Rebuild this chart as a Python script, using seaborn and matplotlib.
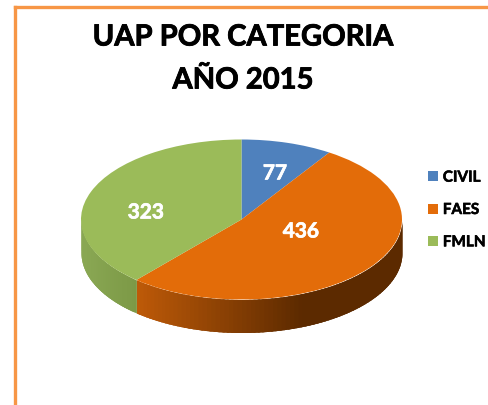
import numpy as np
import matplotlib
matplotlib.use("Agg")
import matplotlib.pyplot as plt
from matplotlib.lines import Line2D
import matplotlib.patheffects as pe
import seaborn as sns

categories = ["CIVIL", "FAES", "FMLN"]
values = [77, 436, 323]
title_lines = ["UAP POR CATEGORIA", "AÑO 2015"]
colors = ["#4f81bd", "#e36c09", "#9bbb59"]

sns.set_theme(style="white")
plt.rcParams["font.family"] = ["Lato", "DejaVu Sans"]

W, H = 488, 406
CX, CY, RX, RY, DEPTH = 241.5, 220.5, 160.5, 80, 33
fig = plt.figure(figsize=(W / 100, H / 100), dpi=100, facecolor="white")
ax = fig.add_axes([0, 0, 1, 1])


def fx(px):
    return px / W


def fy(py):
    return 1 - py / H


wedges, _ = ax.pie(values, colors=colors, startangle=90, counterclock=False,
                   radius=1, wedgeprops=dict(linewidth=0))
for w in wedges:
    w.set_zorder(5)
ax.set_aspect("auto")
ax.set_xlim(-CX / RX, (W - CX) / RX)
ax.set_ylim((CY - H) / RY, CY / RY)

# extruded side wall, shaded along each slice
depth = DEPTH / RY
edges = np.concatenate([[0], np.cumsum(values)]) / np.sum(values) * 2 * np.pi


def wall_color(i, x):
    if i == 1:
        t = np.clip((x + 0.655) / 1.03, 0, 1)
        a, b = np.array([190, 90, 8]), np.array([92, 42, 0])
    elif i == 2:
        t = np.clip((x + 1) / 0.345, 0, 1)
        a, b = np.array([138, 168, 84]), np.array([124, 153, 70])
    else:
        t = 0
        a, b = np.array([60, 100, 150]), np.array([60, 100, 150])
    return tuple((a + (b - a) * t) / 255)


for i in range(len(values)):
    ang = np.linspace(edges[i], edges[i + 1], 120)
    step = ang[1] - ang[0]
    for a0 in ang[:-1]:
        if np.cos(a0) >= 0 and np.cos(a0 + step) >= 0:
            continue
        # each strip overlaps the next so no seams show between them
        a1 = min(a0 + 2.5 * step, edges[i + 1])
        seg = np.linspace(a0, a1, 4)
        xs, ys = np.sin(seg), np.cos(seg)
        c = wall_color(i, np.sin(a0 + step / 2))
        ax.fill_between(xs, ys, ys - depth, color=c, linewidth=0, zorder=2)

for txt, (px, py) in zip(values, [(275, 174.5), (301, 232.5), (146, 213.5)]):
    ax.text(fx(px), fy(py), str(txt), transform=fig.transFigure, color="white",
            fontsize=15, fontweight="bold", ha="center", va="center", zorder=7,
            path_effects=[pe.withStroke(linewidth=0.5, foreground="white")])

for line, py in zip(title_lines, [38.5, 81.5]):
    fig.text(fx(243), fy(py), line, fontsize=21, fontweight="bold", color="black",
             ha="center", va="center",
             path_effects=[pe.withStroke(linewidth=0.6, foreground="black")])

leg = fig.legend(wedges, categories, loc="center left",
                 bbox_to_anchor=(fx(428), fy(211)), frameon=False,
                 prop=dict(size=11, weight="bold"), handlelength=0.64,
                 handleheight=0.64, handletextpad=0.33, labelspacing=1.2,
                 borderpad=0, borderaxespad=0, labelcolor="black")
for t in leg.get_texts():
    t.set_path_effects([pe.withStroke(linewidth=0.4, foreground="black")])

frame = "#f79646"
fig.add_artist(Line2D([fx(15), fx(15)], [fy(8), 0], color=frame, lw=2.4,
                      transform=fig.transFigure, solid_capstyle="projecting"))
fig.add_artist(Line2D([fx(15), 1], [fy(8), fy(8)], color=frame, lw=2.4,
                      transform=fig.transFigure, solid_capstyle="projecting"))

fig.savefig("out.png", dpi=100, facecolor="white")
